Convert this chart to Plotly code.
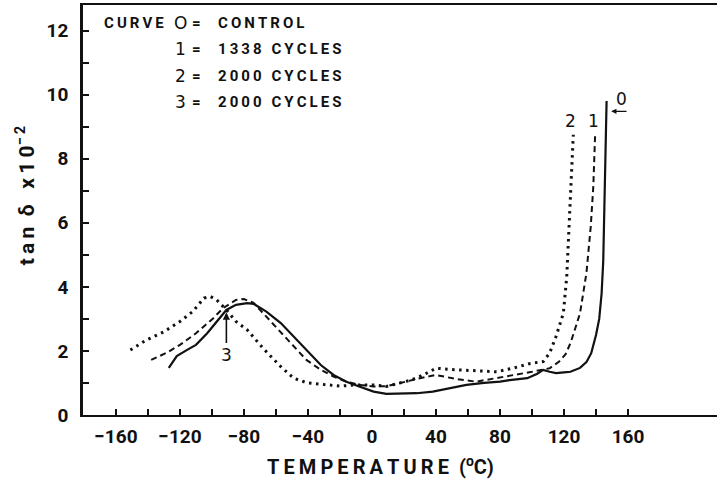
import plotly.graph_objects as go

# ---- data ----
T0 = [-127, -122, -115, -110, -103, -95, -91, -85, -78, -74, -66, -57, -49, -41, -32, -24,
      -16, -8, 1, 9, 18, 28, 38, 48, 59, 70, 80, 86, 97, 103, 107, 111, 115, 120, 124, 130,
      134, 137, 140, 142, 143.5, 144.5, 145, 145.6, 146.2, 146.6]
Y0 = [1.47, 1.84, 2.05, 2.19, 2.55, 3.03, 3.28, 3.44, 3.49, 3.47, 3.23, 2.87, 2.44, 2.03, 1.56, 1.25,
      1.04, 0.89, 0.73, 0.66, 0.66, 0.68, 0.73, 0.82, 0.94, 1.00, 1.04, 1.09, 1.15, 1.28, 1.41, 1.35,
      1.31, 1.33, 1.35, 1.47, 1.65, 1.93, 2.5, 3.0, 3.8, 4.8, 5.9, 7.0, 8.0, 9.8]

T1 = [-138, -128, -120, -110, -99, -93, -85, -80, -74, -66, -57, -49, -41, -32, -24, -16, -8, 1,
      9, 17, 24, 30, 40, 47, 53, 65, 78, 90, 100, 111, 117, 121, 124, 127, 130, 132, 134, 136.7,
      138.3, 139.4]
Y1 = [1.72, 1.95, 2.19, 2.55, 3.03, 3.34, 3.59, 3.62, 3.50, 3.07, 2.56, 2.13, 1.72, 1.41, 1.20, 1.04,
      0.94, 0.89, 0.90, 0.99, 1.08, 1.15, 1.25, 1.18, 1.12, 1.04, 1.15, 1.25, 1.35, 1.46, 1.67, 1.9,
      2.24, 2.7, 3.18, 3.8, 4.43, 5.88, 7.13, 8.7]

T2 = [-151, -141, -130, -120, -112, -105, -101, -97, -91, -85, -78, -68, -57, -49, -41, -28, -20,
      -10, 1, 9, 17, 25, 32, 40, 53, 65, 78, 88, 99, 107, 111, 115, 119.6, 121.7, 122.7, 123.8,
      124.8, 125.8]
Y2 = [2.03, 2.34, 2.60, 2.92, 3.23, 3.65, 3.70, 3.59, 3.28, 2.92, 2.66, 2.08, 1.51, 1.15, 1.01, 0.94,
      0.90, 0.94, 0.94, 0.89, 0.99, 1.1, 1.25, 1.46, 1.41, 1.38, 1.35, 1.46, 1.61, 1.67, 1.93, 2.45,
      3.18, 4.32, 5.36, 6.93, 7.97, 8.75]

x_major = [-160, -120, -80, -40, 0, 40, 80, 120, 160]
x_minor = [-180, -140, -100, -60, -20, 20, 60, 100, 140]
y_major = [0, 2, 4, 6, 8, 10, 12]
y_minor = [1, 3, 5, 7, 9, 11]

legend_keys = ["O", "1", "2", "3"]
legend_names = ["CONTROL", "1338 CYCLES", "2000 CYCLES", "2000 CYCLES"]
curve_labels = ["0", "1", "2"]
x_title = "TEMPERATURE"
y_title_word = "tan"

BOLD = "Roboto, Liberation Sans, sans-serif"
THIN = "DejaVu Sans, Liberation Sans, sans-serif"
INK = "#111111"
TS = "\u2009"


def spaced(s):
    return TS.join(s)


fig = go.Figure()
fig.add_trace(go.Scatter(x=T0, y=Y0, mode="lines", line=dict(color=INK, width=2.2),
                         name="0 = CONTROL", showlegend=False))
fig.add_trace(go.Scatter(x=T1, y=Y1, mode="lines", line=dict(color=INK, width=2, dash="6px,4px"),
                         name="1 = 1338 CYCLES", showlegend=False))
fig.add_trace(go.Scatter(x=T2, y=Y2, mode="lines", line=dict(color=INK, width=3, dash="2.5px,4.5px"),
                         name="2 = 2000 CYCLES", showlegend=False))

ann = []
# legend block
rows_y = [12.25, 11.44, 10.59, 9.78]
ann.append(dict(x=-168.5, y=rows_y[0], xref="x", yref="y", text=spaced("CURVE"),
                showarrow=False, xanchor="left", yanchor="middle",
                font=dict(family=BOLD, size=15, color=INK, weight="bold")))
for k, name, yy in zip(legend_keys, legend_names, rows_y):
    ann.append(dict(x=-119.4, y=yy, xref="x", yref="y", text=k, showarrow=False,
                    xanchor="center", yanchor="middle", font=dict(family=THIN, size=17, color=INK)))
    ann.append(dict(x=-109.4, y=yy, xref="x", yref="y", text="=", showarrow=False,
                    xanchor="center", yanchor="middle",
                    font=dict(family=BOLD, size=15, color=INK, weight="bold")))
    ann.append(dict(x=-97.5, y=yy, xref="x", yref="y", text=spaced(name),
                    showarrow=False, xanchor="left", yanchor="middle",
                    font=dict(family=BOLD, size=15, color=INK, weight="bold")))

# curve labels near the tops
ann.append(dict(x=123.75, y=9.17, xref="x", yref="y", text=curve_labels[2], showarrow=False,
                font=dict(family=THIN, size=17, color=INK)))
ann.append(dict(x=138.3, y=9.17, xref="x", yref="y", text=curve_labels[1], showarrow=False,
                font=dict(family=THIN, size=17, color=INK)))
ann.append(dict(x=156, y=9.85, xref="x", yref="y", text=curve_labels[0], showarrow=False,
                font=dict(family=THIN, size=17, color=INK)))
ann.append(dict(x=149.5, y=9.48, xref="x", yref="y", ax=160, ay=9.48, axref="x", ayref="y",
                text="", showarrow=True,
                arrowhead=2, arrowsize=0.8, arrowwidth=1.3, arrowcolor=INK))
# curve 3 pointer
ann.append(dict(x=-91, y=3.2, xref="x", yref="y", text="3", showarrow=True, ax=0, ay=42,
                arrowhead=2, arrowsize=0.9, arrowwidth=1.6, arrowcolor=INK, standoff=0,
                font=dict(family=THIN, size=17, color=INK)))

# axis titles placed as annotations (paper coords)
ann.append(dict(x=0.470, y=-0.124, xref="paper", yref="paper", showarrow=False,
                text=spaced(x_title) + "  (<sup>o</sup>C)", xanchor="center", yanchor="middle",
                font=dict(family=BOLD, size=20, color=INK, weight="bold")))
ann.append(dict(x=-0.092, y=0.535, xref="paper", yref="paper", showarrow=False, textangle=-90,
                text=spaced(y_title_word) + "  δ   " + spaced("x10") + "<sup>\u2212" + TS + "2</sup>",
                xanchor="center", yanchor="middle",
                font=dict(family=BOLD, size=21, color=INK, weight="bold")))

fig.update_layout(
    width=717, height=479,
    margin=dict(l=83, r=0, t=5, b=64),
    paper_bgcolor="white", plot_bgcolor="white",
    showlegend=False,
    annotations=ann,
    xaxis=dict(range=[-180.6, 215.6], tickmode="array", tickvals=x_major,
               ticks="inside", ticklen=6, tickwidth=2, tickcolor=INK,
               minor=dict(tickmode="array", tickvals=x_minor, ticks="inside", ticklen=6,
                          tickwidth=2, tickcolor=INK, showgrid=False),
               showline=True, linewidth=2.2, linecolor=INK, mirror=True,
               showgrid=False, zeroline=False, ticklabelstandoff=3,
               tickfont=dict(family=BOLD, size=19, color=INK, weight="bold")),
    yaxis=dict(range=[0, 12.8], tickmode="array", tickvals=y_major,
               ticks="inside", ticklen=6, tickwidth=2, tickcolor=INK,
               minor=dict(tickmode="array", tickvals=y_minor, ticks="inside", ticklen=6,
                          tickwidth=2, tickcolor=INK, showgrid=False),
               showline=True, linewidth=2.6, linecolor=INK, mirror=False,
               showgrid=False, zeroline=False, ticklabelstandoff=8,
               tickfont=dict(family=BOLD, size=19, color=INK, weight="bold")),
)

fig.write_html("out.html", config={"displayModeBar": False},
               post_script="document.body.style.margin='0';document.body.style.overflow='hidden';")
